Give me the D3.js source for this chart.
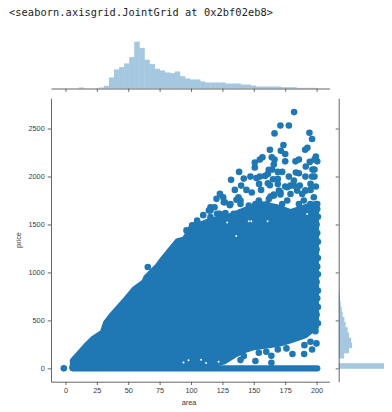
<!DOCTYPE html>
<html><head><meta charset="utf-8"><style>html,body{margin:0;background:#fff}svg{display:block}text{font-family:"Liberation Sans"}</style>
<script src="https://cdn.jsdelivr.net/npm/d3@7"></script></head><body><svg id="c" width="392" height="412"></svg>
<script>
const title="<seaborn.axisgrid.JointGrid at 0x2bf02eb8>";
const xTicks=[0,25,50,75,100,125,150,175,200];
const yTicks=[0,500,1000,1500,2000,2500];
// outline of the dense cloud of points
const massArea=[5.8,16.5,21.8,29.7,32.4,37.7,48.3,55,62.9,64.3,73.5,77.5,82.8,89.5,94.8,98.2,99.6,115.5,128.8,142,155.3,168.6,179.2,191.1,199.5,199.5,199.1,190.8,179.2,169.9,160.6,150,142,134,126,118,100,50,6];
const massPrice=[80,236,305,374,478,565,721,825,901,946,1067,1137,1223,1327,1345,1414,1455,1542,1576,1646,1715,1680,1628,1680,1715,430,429,343,291,256,239,221,187,135,70,45,30,30,30];
// price = 0 row
const rowArea=[6,30,60,90,120,150,180,200.5];
const rowPrice=[0,0,0,0,0,0,0,0];
const edgeArea=[201,200,201,200.5,201,200,201,200.5,201,200,201,200.5,200,201,200.5];
const edgePrice=[470,560,640,730,810,900,980,1060,1150,1240,1320,1410,1500,1580,1660];
const loneArea=[-1.3,5.6,65.6,96.4,151.3,164,164,180.8,190.1,196.4,199.9,195.1,190.3,176,169.1,159.9,154,142,139.4,199.1,105];
const lonePrice=[0,10,1057,1438,76,131,58,149,149,197,260,277,242,208,197,173,162,128,86,388,45];
const scatterArea=[182.1,171.2,177.9,166.5,194.3,196.4,173.6,162.8,171.5,175,192.7,190.9,150.8,150.8,154.8,156.9,164.3,166.5,165.9,175,183.2,185.9,199.4,200.5,198.3,194.6,191.4,196.7,198.3,138.3,131.9,142,147.3,152.1,154.8,159,161.9,164.6,161.2,169.1,172.6,177.9,183.5,185.9,191.1,196.4,198.3,134.9,139.9,144.1,148.4,155.8,154.2,161.2,162.8,169.1,175,186.6,195.2,199.4,195.2,191.1,123,125.6,120.3,126.9,130.9,118.7,115.5,109.7,137.8,136.2,139.4,165.3,169.1,181.9,179.2,171.2,165.9,163.3,104.9,100.9,107,123,127.4,115.5,118.1];
const scatterPrice=[2671,2532,2532,2449,2456,2390,2328,2279,2269,2235,2300,2279,2145,2093,2176,2200,2200,2176,2124,2158,2158,2176,2207,2158,2176,2152,2103,2072,2072,2048,1965,1978,1999,1985,1999,2006,2069,2072,2027,2048,2048,1999,2041,2034,1999,1999,1999,1860,1905,1860,1833,1860,1923,1930,1909,1923,1895,1905,1923,1895,1860,1853,1819,1784,1767,1732,1701,1680,1646,1597,1784,1757,1750,1971,1975,1957,1905,1836,1812,1791,1524,1490,1473,1611,1620,1576,1524];
const denseArea=[139.4,154,162,166,171.2,179.2,176.6,184.5,191.2,197.8,200.5,195.1,185.9,188.5,160.6,170,176.6,181.9,131.4,126.1,115.5,114.2,104.9,102.2,110.2,120.8,134.1,139.4,146,151.3,172.6,189.8];
const densePrice=[1714,1749,1766,1801,1812,1818,1749,1853,1853,1784,1714,1714,1714,1818,1714,1853,1888,1905,1714,1732,1680,1645,1541,1489,1472,1611,1611,1628,1697,1714,1714,1749];
// small gaps left between points
const gapArea=[146,148,161,128.8,192.5,136,94,98,108,112,122];
const gapPrice=[1534,1534,1534,1520,1610,1380,60,85,90,55,70];
const histX=[0,0,0,3,0,0,0,3,8,33,57,64,75,94,140,121,86,73,59,54,48,46,51,37,30,27,27,21,18,18,18,18,15,15,15,12,12,9,6,6,6,6,6,4,4,4,2,2,2,2];
const histY=[136,0,16,31,40,37,31,27,21,17,12,9,6,4,2];
const bl="#1f77b4", hf="#a6c7e0", ax="#666", tc="#3a3a3a";
const svg=d3.select("#c");
const x=d3.scaleLinear().domain([-11.5,210.2]).range([51,329.4]);
const y=d3.scaleLinear().domain([-139,2815]).range([381.7,98.3]);
svg.append("text").text(title).attr("x",9).attr("y",16).attr("font-size",10.3).attr("fill","#222").attr("style",'font-family:"DejaVu Sans Mono"').attr("textLength",264);
const g=svg.append("g");
const pts=(a,p,r,c)=>g.selectAll(null).data(a).join("circle").attr("cx",d=>x(d)).attr("cy",(d,i)=>y(p[i])).attr("r",r).attr("fill",c);
g.append("path").attr("d",d3.line().x(d=>x(d[0])).y(d=>y(d[1]))(massArea.map((a,i)=>[a,massPrice[i]]))+"Z").attr("fill",bl).attr("stroke",bl).attr("stroke-width",6).attr("stroke-linejoin","round");
g.append("path").attr("d",d3.line().x(d=>x(d)).y((d,i)=>y(rowPrice[i]))(rowArea)).attr("stroke",bl).attr("stroke-width",6.4).attr("stroke-linecap","round").attr("fill","none");
pts(gapArea,gapPrice,1,"#fff");
pts(edgeArea,edgePrice,3.3,bl);pts(loneArea,lonePrice,3.3,bl);pts(scatterArea,scatterPrice,3.3,bl);pts(denseArea,densePrice,3.3,bl);
const hb=88.5;
const bx=d3.scaleBand().domain(d3.range(histX.length)).range([63.4,316.5]);
const hx=d3.scaleLinear().domain([0,140]).range([hb,41.7]);
svg.selectAll(null).data(histX).join("rect").attr("x",(d,i)=>bx(i)).attr("width",bx.bandwidth()+.4).attr("y",d=>hx(d)).attr("height",d=>hb-hx(d)).attr("fill",hf);
const by=d3.scaleBand().domain(d3.range(histY.length)).range([y(0),y(804)]);
const hy=d3.scaleLinear().domain([0,136]).range([338.7,384]);
svg.selectAll(null).data(histY).join("rect").attr("y",(d,i)=>by(i)).attr("height",by.bandwidth()+.4).attr("x",338.7).attr("width",d=>hy(d)-338.7).attr("fill",hf);
const style=s=>{s.selectAll("path,line").attr("stroke",ax).attr("stroke-width",1);s.selectAll("text").attr("fill",tc).attr("font-size",7.3).attr("font-family","Liberation Sans");};
const fmt=d3.format("d");
svg.append("g").attr("transform","translate(0,381.7)").call(d3.axisBottom(x).tickValues(xTicks).tickFormat(fmt).tickSize(3.3).tickSizeOuter(0).tickPadding(3)).call(style);
svg.append("g").attr("transform","translate(51,0)").call(d3.axisLeft(y).tickValues(yTicks).tickFormat(fmt).tickSize(3.3).tickSizeOuter(0).tickPadding(3)).call(style);
svg.append("g").attr("transform",`translate(0,${hb})`).call(d3.axisBottom(x).tickValues(xTicks).tickSize(3.3).tickSizeOuter(0).tickFormat("")).call(style);
svg.append("g").attr("transform","translate(338.7,0)").call(d3.axisLeft(y).tickValues(yTicks).tickSize(3).tickSizeOuter(0).tickFormat("")).call(style);
svg.append("text").text("area").attr("x",189).attr("y",405).attr("text-anchor","middle").attr("font-size",7.3).attr("fill",tc);
svg.append("text").text("price").attr("transform","translate(21,240) rotate(-90)").attr("text-anchor","middle").attr("font-size",7.3).attr("fill",tc);
</script></body></html>
